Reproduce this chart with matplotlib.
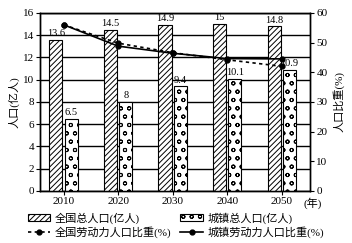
import matplotlib
matplotlib.use('Agg')
import numpy as np
import matplotlib.pyplot as plt
from matplotlib.patches import Patch
from matplotlib.lines import Line2D

plt.rcParams['font.family'] = ['Liberation Serif', 'Noto Sans CJK SC']
plt.rcParams['hatch.linewidth'] = 0.7

years = [2010, 2020, 2030, 2040, 2050]
national_total = [13.6, 14.5, 14.9, 15, 14.8]   # 亿人
urban_total = [6.5, 8, 9.4, 10.1, 10.9]          # 亿人
national_labor = [56, 49.8, 46.6, 44.2, 42]      # %
urban_labor = [56, 48.8, 46.4, 44.6, 44.5]       # %

fig = plt.figure(figsize=(3.52, 2.43), dpi=100)
ax = fig.add_axes([0.114, 0.214, 0.767, 0.733])
ax2 = ax.twinx()

x = np.array(years, dtype=float)
w = 2.4
ax.bar(x - 1.4, national_total, w, facecolor='white', edgecolor='black',
       hatch='//////', linewidth=0.8, zorder=3)
ax.bar(x + 1.4, urban_total, w, facecolor='white', edgecolor='black',
       hatch='oo', linewidth=0.8, zorder=3)

for xi, v in zip(x, national_total):
    ax.text(xi - 1.4, v + 0.15, f'{v:g}', ha='center', va='bottom', fontsize=7.5, zorder=4)
for xi, v in zip(x, urban_total):
    ax.text(xi + 1.4, v + 0.15, f'{v:g}', ha='center', va='bottom', fontsize=7.5, zorder=4)

ax.set_ylim(0, 16)
ax.set_yticks(range(0, 17, 2))
ax.set_xlim(2005.7, 2055.2)
ax.set_xticks(years)
ax.yaxis.grid(True, color='black', linewidth=1.0)
ax.set_axisbelow(True)
ax.tick_params(labelsize=8, length=3, color='black', pad=1.5)
ax.set_ylabel('人口(亿人)', fontsize=8, labelpad=2)

ax2.plot(years, national_labor, color='black', linestyle=(0, (2, 2)), linewidth=1.2,
         marker='o', markersize=3.5, zorder=5)
ax2.plot(years, urban_labor, color='black', linestyle='-', linewidth=1.2,
         marker='o', markersize=3.5, zorder=5)
ax2.set_ylim(0, 60)
ax2.set_yticks(range(0, 61, 10))
ax2.tick_params(labelsize=8, length=3, pad=1.5)
ax2.set_ylabel('人口比重(%)', fontsize=8, rotation=90, labelpad=4)

ax.text(0.975, -0.035, '(年)', transform=ax.transAxes, ha='left', va='top', fontsize=8)

for a in (ax, ax2):
    for s in a.spines.values():
        s.set_linewidth(1.0)

handles = [
    Patch(facecolor='white', edgecolor='black', hatch='//////', linewidth=0.8),
    Line2D([], [], color='black', linestyle=(0, (2, 2)), marker='o', markersize=3.5, linewidth=1.2),
    Patch(facecolor='white', edgecolor='black', hatch='oo', linewidth=0.8),
    Line2D([], [], color='black', linestyle='-', marker='o', markersize=3.5, linewidth=1.2),
]
labels = ['全国总人口(亿人)', '全国劳动力人口比重(%)', '城镇总人口(亿人)', '城镇劳动力人口比重(%)']
fig.legend(handles, labels, ncol=2, loc='lower center', bbox_to_anchor=(0.5, -0.01),
           frameon=False, fontsize=8, handlelength=2.0, handleheight=0.6,
           handletextpad=0.4, columnspacing=0.8, labelspacing=0.2, borderpad=0.2)

fig.savefig('out.png', dpi=100)
